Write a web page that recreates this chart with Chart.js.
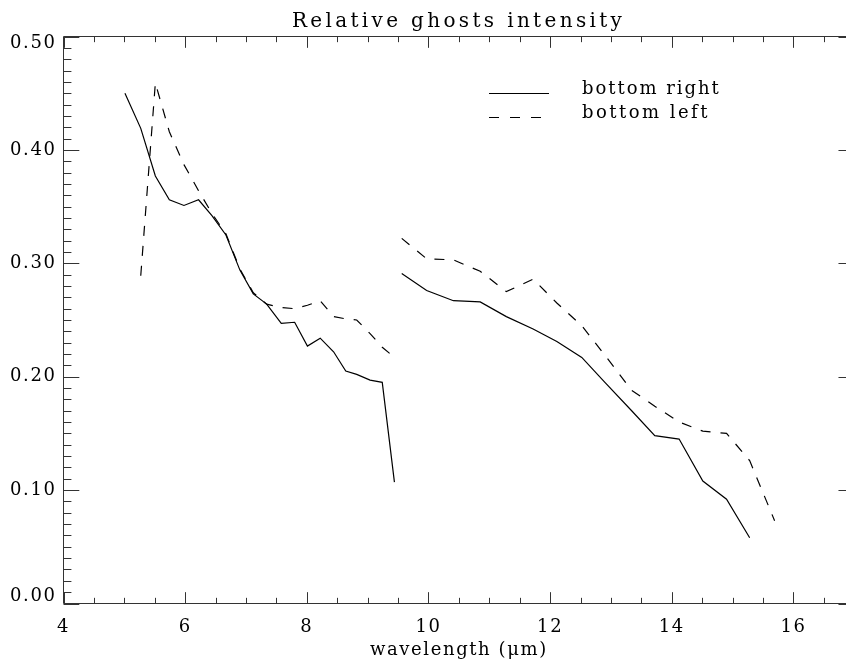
<!DOCTYPE html>
<html><head><meta charset="utf-8">
<script src="https://cdn.jsdelivr.net/npm/chart.js@4/dist/chart.umd.min.js"></script>
<style>
html,body{margin:0;padding:0;background:#fff;overflow:hidden}
#wrap{width:846px;height:665px;overflow:hidden;position:relative;background:#fff}
canvas{display:block}
</style></head><body>
<div id="wrap"><canvas id="c" width="856" height="665"></canvas></div>
<script>
const chartTitle = "Relative ghosts intensity";
const xAxisTitle = "wavelength (\u03bcm)";
const seriesNames = ["bottom right", "bottom left"];
const xTickValues = [4, 6, 8, 10, 12, 14, 16];
const yTickValues = [0.00, 0.10, 0.20, 0.30, 0.40, 0.50];

// segment 1 (short-wavelength detector)
const wl1 = [5.01,5.27,5.51,5.74,5.98,6.22,6.44,6.67,6.90,7.12,7.34,7.58,7.80,8.01,8.22,8.44,8.64,8.82,9.04,9.24,9.44];
const bottomRight1 = [0.450,0.419,0.377,0.356,0.351,0.356,0.342,0.325,0.294,0.273,0.264,0.247,0.248,0.227,0.234,0.222,0.205,0.202,0.197,0.195,0.107];
const wlLeft1 = [5.27,5.51,5.74,5.98,6.22,6.44,6.67,6.90,7.12,7.34,7.58,7.80,8.01,8.22,8.44,8.64,8.82,9.04,9.24,9.44];
const bottomLeft1 = [0.289,0.459,0.416,0.387,0.364,0.344,0.326,0.295,0.274,0.264,0.261,0.260,0.263,0.267,0.253,0.251,0.250,0.238,0.226,0.217];

// segment 2 (long-wavelength detector)
const wl2 = [9.56,9.97,10.41,10.85,11.28,11.72,12.11,12.52,12.90,13.34,13.72,14.12,14.51,14.90,15.28,15.69];
const bottomRight2 = [0.291,0.276,0.267,0.266,0.253,0.242,0.231,0.217,0.195,0.170,0.148,0.145,0.108,0.092,0.058];
const bottomLeft2 = [0.322,0.304,0.303,0.293,0.275,0.286,0.265,0.245,0.219,0.188,0.174,0.160,0.152,0.150,0.126,0.073];

const toPts = (xs, ys) => ys.map((y, i) => ({x: xs[i], y: y}));
const gapPt = {x: 9.5, y: null};
const rightData = [...toPts(wl1, bottomRight1), gapPt, ...toPts(wl2, bottomRight2)];
const leftData = [...toPts(wlLeft1, bottomLeft1), gapPt, ...toPts(wl2, bottomLeft2)];

const FONT = "'DejaVu Serif', serif";
const INK = '#000';

function drawSpaced(ctx, text, x, y, fontSize, targetW, align) {
  ctx.font = fontSize + "px " + FONT;
  ctx.letterSpacing = '0px';
  const w0 = ctx.measureText(text).width;
  const sp = Math.max(0, (targetW - w0) / (text.length - 1));
  ctx.letterSpacing = sp + 'px';
  const w = w0 + sp * (text.length - 1);
  const x0 = align === 'center' ? x - w / 2 : x;
  ctx.textAlign = 'left';
  ctx.fillText(text, x0, y);
}

const framePlugin = {
  id: 'frame',
  beforeDraw(chart) {
    chart.ctx.letterSpacing = '1.6px';
  },
  afterDraw(chart) {
    const ctx = chart.ctx;
    const a = chart.chartArea;
    const xs = chart.scales.x, ys = chart.scales.y;
    ctx.save();
    ctx.letterSpacing = '0px';
    ctx.strokeStyle = '#333';
    ctx.lineWidth = 1;
    ctx.beginPath();
    ctx.rect(a.left, a.top, a.right - a.left, a.bottom - a.top);
    ctx.stroke();
    const h = a.bottom - a.top, w = a.right - a.left;
    const xMaj = 0.02 * h, xMin = 0.01 * h, yMaj = 0.02 * w, yMin = 0.01 * w;
    ctx.beginPath();
    for (let v = xs.min; v <= xs.max + 1e-9; v += 0.5) {
      const p = Math.round(xs.getPixelForValue(v)) + 0.5;
      const L = xTickValues.includes(Math.round(v * 100) / 100) ? xMaj : xMin;
      ctx.moveTo(p, a.bottom); ctx.lineTo(p, a.bottom - L);
      ctx.moveTo(p, a.top); ctx.lineTo(p, a.top + L);
    }
    for (let k = 0; k <= 50; k++) {
      const v = k / 100;
      const p = Math.round(ys.getPixelForValue(v)) + 0.5;
      const L = (k % 10 === 0) ? yMaj : yMin;
      ctx.moveTo(a.left, p); ctx.lineTo(a.left + L, p);
      ctx.moveTo(a.right, p); ctx.lineTo(a.right - L, p);
    }
    ctx.stroke();

    // title
    ctx.fillStyle = INK;
    ctx.textBaseline = 'alphabetic';
    drawSpaced(ctx, chartTitle, (a.left + a.right) / 2 - 2, 26.7, 20, 330, 'center');

    // legend
    const lx = 489, lineW = 60, textX = 582, rowY = [93.5, 117.5];
    chart.data.datasets.forEach((ds, i) => {
      ctx.save();
      ctx.strokeStyle = ds.borderColor;
      ctx.lineWidth = ds.borderWidth;
      ctx.setLineDash(ds.legendDash || []);
      ctx.beginPath();
      ctx.moveTo(lx, rowY[i]); ctx.lineTo(lx + lineW, rowY[i]);
      ctx.stroke();
      ctx.restore();
      drawSpaced(ctx, ds.label, textX, rowY[i], 18, ds.label.length * 11.4, 'left');
    });
    ctx.restore();
  }
};

const yMax = yTickValues[yTickValues.length - 1];
const yMin = yTickValues[0];

new Chart(document.getElementById('c'), {
  type: 'line',
  data: {
    datasets: [
      {label: seriesNames[0], data: rightData, borderColor: INK, borderWidth: 1.2, pointRadius: 0, fill: false, spanGaps: false, tension: 0},
      {label: seriesNames[1], data: leftData, borderColor: INK, borderWidth: 1.2, borderDash: [10, 10], legendDash: [10, 11], pointRadius: 0, fill: false, spanGaps: false, tension: 0}
    ]
  },
  options: {
    responsive: false,
    animation: false,
    events: [],
    layout: {padding: {top: 36.5, right: 1.7, left: 0, bottom: 0}},
    plugins: {legend: {display: false}, title: {display: false}, tooltip: {enabled: false}},
    scales: {
      x: {
        type: 'linear', min: 4, max: 17,
        grid: {display: false, drawTicks: false},
        border: {display: false},
        afterBuildTicks: s => { s.ticks = xTickValues.map(v => ({value: v})); },
        afterFit: s => { s.height = 61.5; },
        ticks: {padding: 13, color: INK, font: {family: FONT, size: 18}, maxRotation: 0, autoSkip: false,
                callback: v => String(v)},
        title: {display: true, text: xAxisTitle, color: INK, font: {family: FONT, size: 18}, padding: {top: 0, bottom: 4}}
      },
      y: {
        type: 'linear', min: 0, max: 0.5,
        grid: {display: false, drawTicks: false},
        border: {display: false},
        afterBuildTicks: s => { s.ticks = yTickValues.map(v => ({value: v})); },
        afterFit: s => { s.width = 63.5; },
        ticks: {padding: 7, color: INK, font: {family: FONT, size: 18, lineHeight: 0.78}, autoSkip: false,
                callback: v => {
                  const t = Number(v).toFixed(2);
                  if (Math.abs(v - yMax) < 1e-9) return ['', t];
                  if (Math.abs(v - yMin) < 1e-9) return [t, ''];
                  return t;
                }}
      }
    }
  },
  plugins: [framePlugin]
});
</script>
</body></html>
